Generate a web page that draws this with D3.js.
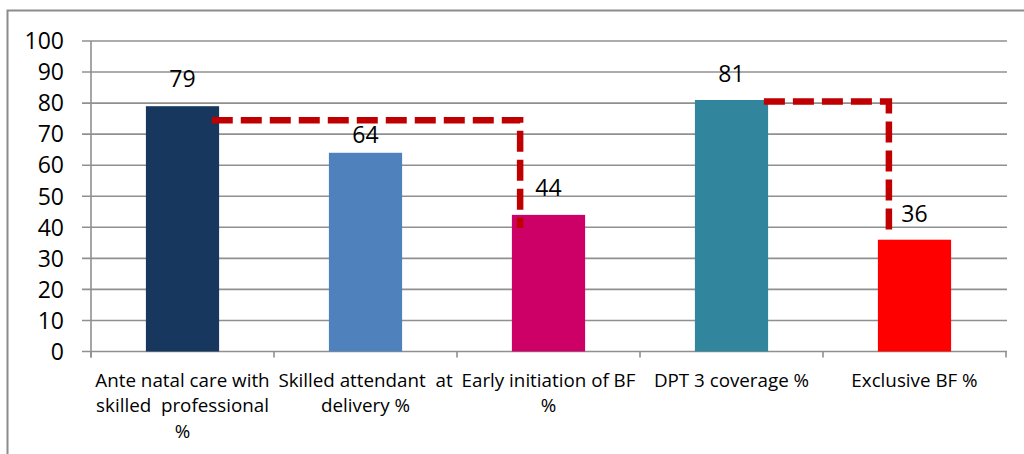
<!DOCTYPE html>
<html>
<head>
<meta charset="utf-8">
<script src="https://cdn.jsdelivr.net/npm/d3@7"></script>
<style>
  html, body { margin: 0; padding: 0; background: #fff; }
  svg { display: block; }
  text { font-family: "Open Sans", "Noto Sans", sans-serif; fill: #000; }
</style>
</head>
<body>
<svg id="chart" width="1024" height="454"></svg>
<script>
// Indicator names and values (%)
const categories = [
  "Ante natal care with skilled professional %",
  "Skilled attendant at delivery %",
  "Early initiation of BF %",
  "DPT 3 coverage %",
  "Exclusive BF %"
];
const categoryLines = [
  ["Ante natal care with", "skilled  professional", "%"],
  ["Skilled attendant  at", "delivery %"],
  ["Early initiation of BF", "%"],
  ["DPT 3 coverage %"],
  ["Exclusive BF %"]
];
const values = [79, 64, 44, 81, 36];
const barColors = ["#17375E", "#4F81BD", "#CC0066", "#31859C", "#FF0000"];
const yTicks = [0, 10, 20, 30, 40, 50, 60, 70, 80, 90, 100];

// Dashed elbow connectors: [category position, value] pairs
const connectorA = [[0.66, 74.5], [2.345, 74.5], [2.345, 39.8]];
const connectorB = [[3.677, 80.5], [4.36, 80.5], [4.36, 37]];

const svg = d3.select("#chart");
const plotLeft = 91, plotRight = 1006, plotTop = 41, plotBottom = 351.5;

const x = d3.scaleBand().domain(categories).range([plotLeft, plotRight])
  .paddingInner(0.6).paddingOuter(0.3);
const xPos = d3.scaleLinear().domain([0, categories.length]).range([plotLeft, plotRight]);
const y = d3.scaleLinear().domain([0, 100]).range([plotBottom, plotTop]);

// Outer frame
svg.append("rect")
  .attr("x", 7.5).attr("y", 10.5)
  .attr("width", 1040).attr("height", 470)
  .attr("fill", "none").attr("stroke", "#8c8c8c").attr("stroke-width", 2);

// Horizontal gridlines with left tick marks
svg.append("g").selectAll("line").data(yTicks).join("line")
  .attr("x1", plotLeft - 9).attr("x2", plotRight + 1)
  .attr("y1", d => y(d)).attr("y2", d => y(d))
  .attr("stroke", "#909090").attr("stroke-width", 1.6);

// Y tick labels
svg.append("g").selectAll("text").data(yTicks).join("text")
  .attr("x", 64).attr("y", d => y(d))
  .attr("dy", "0.36em")
  .attr("text-anchor", "end")
  .style("font-size", "23px")
  .text(d => d);

// Y axis line
svg.append("line")
  .attr("x1", plotLeft).attr("x2", plotLeft)
  .attr("y1", plotTop).attr("y2", plotBottom + 6)
  .attr("stroke", "#909090").attr("stroke-width", 1.6);

// Category boundary ticks
svg.append("g").selectAll("line").data(d3.range(categories.length + 1)).join("line")
  .attr("x1", d => xPos(d)).attr("x2", d => xPos(d))
  .attr("y1", plotBottom).attr("y2", plotBottom + 6)
  .attr("stroke", "#909090").attr("stroke-width", 1.6);

// Bars
svg.append("g").selectAll("rect").data(values).join("rect")
  .attr("x", (d, i) => x(categories[i]))
  .attr("width", x.bandwidth())
  .attr("y", d => y(d))
  .attr("height", d => y(0) - y(d))
  .attr("fill", (d, i) => barColors[i]);

// Connectors
const line = d3.line().x(d => xPos(d[0])).y(d => y(d[1]));
svg.append("g").selectAll("path").data([connectorA, connectorB]).join("path")
  .attr("d", line)
  .attr("fill", "none")
  .attr("stroke", "#C00000")
  .attr("stroke-width", 6.5)
  .attr("stroke-dasharray", "21 8")
  .attr("stroke-linejoin", "miter");

// Value labels
const labelGap = [19, 10, 19, 18, 18];
svg.append("g").selectAll("text").data(values).join("text")
  .attr("x", (d, i) => x(categories[i]) + x.bandwidth() / 2)
  .attr("y", (d, i) => y(d) - labelGap[i])
  .attr("text-anchor", "middle")
  .style("font-size", "23px")
  .text(d => d);

// Category labels
const catG = svg.append("g");
categoryLines.forEach((lines, i) => {
  const cx = x(categories[i]) + x.bandwidth() / 2;
  const t = catG.append("text")
    .attr("x", cx)
    .attr("y", 386.5)
    .attr("text-anchor", "middle")
    .style("font-size", "18.8px")
    .style("white-space", "pre");
  lines.forEach((ln, j) => {
    t.append("tspan")
      .attr("x", cx)
      .attr("dy", j === 0 ? 0 : 25.8)
      .text(ln);
  });
});
</script>
</body>
</html>
